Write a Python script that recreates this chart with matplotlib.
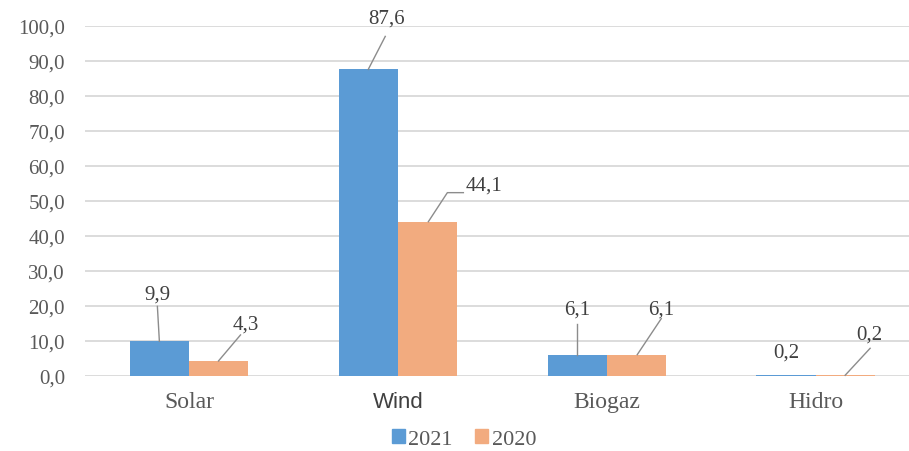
import numpy as np
import matplotlib.pyplot as plt
from matplotlib.patches import Patch

categories = ['Solar', 'Wind', 'Biogaz', 'Hidro']
values_2021 = [9.9, 87.6, 6.1, 0.2]
values_2020 = [4.3, 44.1, 6.1, 0.2]
yticks = np.arange(0, 101, 10)

BLUE = '#5B9BD5'
ORANGE = '#F2AB7F'
GREY = '#595959'
SERIF = 'Liberation Serif'

W, H = 909, 452
fig = plt.figure(figsize=(W / 100, H / 100), dpi=100)
left, right, bottom, top = 84.5, 920, 377, 27
ax = fig.add_axes([left / W, 1 - bottom / H, (right - left) / W, (bottom - top) / H])

x = np.arange(len(categories))
bw = 0.283
ax.bar(x - bw / 2, values_2021, bw, color=BLUE, zorder=3)
ax.bar(x + bw / 2, values_2020, bw, color=ORANGE, zorder=3)

ax.set_xlim(-0.5, len(categories) - 0.5)
ax.set_ylim(0, 100)
ax.set_yticks(yticks)
ax.set_yticklabels([f'{v:.1f}'.replace('.', ',') for v in yticks],
                   fontfamily=SERIF, fontsize=15, color=GREY)
ax.yaxis.grid(True, color='#D9D9D9', linewidth=1.3, zorder=0)
ax.tick_params(axis='y', length=0, pad=14)
ax.tick_params(axis='x', length=0, pad=11)
ax.set_xticks(x)
ax.set_xticklabels(categories, fontfamily=SERIF, fontsize=17, color=GREY)
ax.get_xticklabels()[1].set_fontfamily('Liberation Sans')
ax.get_xticklabels()[1].set_fontsize(16)
ax.get_xticklabels()[1].set_color('#404040')
for s in ax.spines.values():
    s.set_visible(False)

# pixel scale of the axes, used to place labels and leader lines
px_x = (right - left) / len(categories)
px_y = (bottom - top) / 100.0

# (series, index): text offset (px, up positive), leader line points (px)
labels = {
    (0, 0): ((-2, 47), [(0, 0), (-2, 35)]),
    (1, 0): ((27, 37), [(0, 0), (22, 26)]),
    (0, 1): ((18, 51), [(0, 0), (17, 33)]),
    (1, 1): ((57, 37), [(1, 0), (20, 29), (36, 29)]),
    (0, 2): ((0, 46), [(0, 0), (0, 31)]),
    (1, 2): ((25, 46), [(1, 0), (25, 36)]),
    (0, 3): ((0, 23), []),
    (1, 3): ((24, 41), [(0, 0), (25, 27)]),
}

for s, vals in enumerate([values_2021, values_2020]):
    for i, v in enumerate(vals):
        bx = i + (bw / 2 if s else -bw / 2)
        (tx, ty), pts = labels[(s, i)]
        ax.text(bx + tx / px_x, v + ty / px_y, f'{v:.1f}'.replace('.', ','),
                ha='center', va='center', fontfamily=SERIF, fontsize=15,
                color='#404040', zorder=5)
        if pts:
            ax.plot([bx + p[0] / px_x for p in pts], [v + p[1] / px_y for p in pts],
                    color='#8C8C8C', linewidth=1, zorder=4, clip_on=False)

handles = [Patch(color=BLUE, label='2021'), Patch(color=ORANGE, label='2020')]
fig.legend(handles=handles, loc='center', bbox_to_anchor=(464 / W, 1 - 440 / H),
           ncol=2, frameon=False, handlelength=0.6, handleheight=0.6,
           handletextpad=0.15, columnspacing=1.0, borderpad=0.1,
           prop={'family': SERIF, 'size': 16})
for t in fig.legends[0].get_texts():
    t.set_color(GREY)

fig.savefig('out.png', dpi=100)
